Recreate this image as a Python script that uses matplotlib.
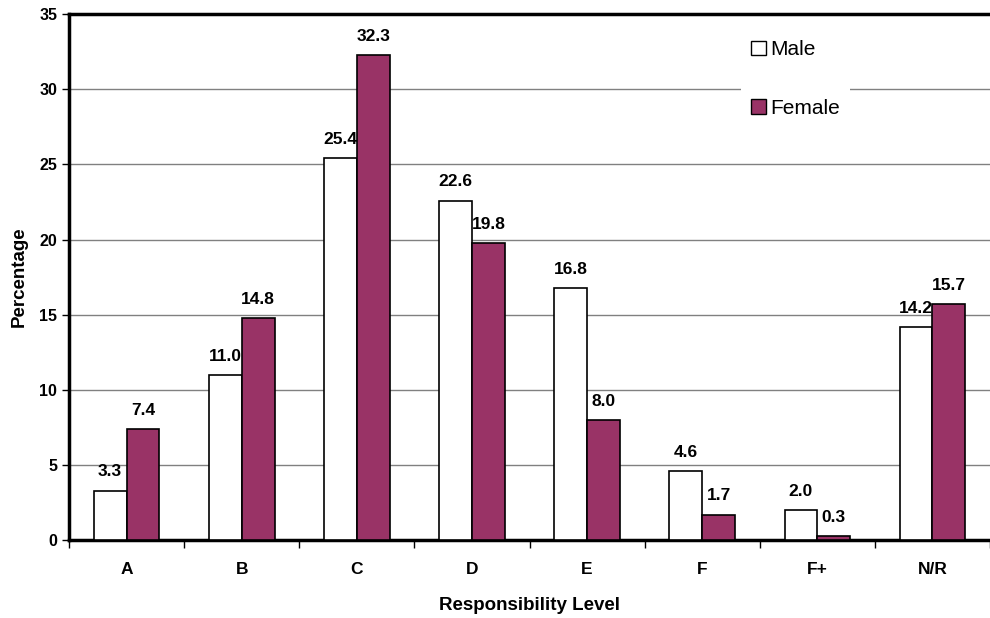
import numpy as np
import matplotlib
matplotlib.use("Agg")
import matplotlib.pyplot as plt
from matplotlib.patches import Patch

plt.rcParams['font.family'] = ['Liberation Sans', 'DejaVu Sans']

levels = ['A', 'B', 'C', 'D', 'E', 'F', 'F+', 'N/R']
male = [3.3, 11.0, 25.4, 22.6, 16.8, 4.6, 2.0, 14.2]
female = [7.4, 14.8, 32.3, 19.8, 8.0, 1.7, 0.3, 15.7]

female_colour = '#993366'
bar_w = 0.285

fig = plt.figure(figsize=(9.9, 6.18), dpi=100)
ax = fig.add_axes([0.0697, 0.126, 0.9303, 0.851])

x = np.arange(len(levels))
m_bars = ax.bar(x - bar_w / 2, male, bar_w, color='white', edgecolor='black', linewidth=1.2, zorder=3)
f_bars = ax.bar(x + bar_w / 2, female, bar_w, color=female_colour, edgecolor='black', linewidth=1.2, zorder=3)

for bars, vals in ((m_bars, male), (f_bars, female)):
    for b, v in zip(bars, vals):
        ax.annotate('%.1f' % v, (b.get_x() + b.get_width() / 2, v),
                    xytext=(0, 8), textcoords='offset points',
                    ha='center', va='bottom', fontsize=12.5, fontweight='bold', zorder=4)

ax.set_ylim(0, 35)
ax.set_xlim(-0.5, 7.43)
ax.set_yticks(np.arange(0, 36, 5))
ax.yaxis.grid(True, color='#808080', linewidth=1.0, zorder=0)
ax.set_axisbelow(True)

# category labels in the middle, ticks on the boundaries
ax.set_xticks(x)
ax.set_xticklabels(levels, fontsize=12.5, fontweight='bold')
ax.tick_params(axis='x', length=0, pad=16)
ax.set_xticks(np.arange(-0.5, len(levels), 1), minor=True)
ax.tick_params(axis='x', which='minor', length=6, width=1, direction='out')
ax.tick_params(axis='y', length=5, width=1, direction='out', labelsize=11.5)
for lab in ax.get_yticklabels():
    lab.set_fontweight('bold')

for side in ('left', 'top', 'bottom'):
    ax.spines[side].set_linewidth(2.5)
ax.spines['right'].set_visible(False)

ax.set_ylabel('Percentage', fontsize=13.5, fontweight='bold', labelpad=8)
ax.set_xlabel('Responsibility Level', fontsize=13.5, fontweight='bold', labelpad=14)

handles = [Patch(facecolor='white', edgecolor='black', label='Male'),
           Patch(facecolor=female_colour, edgecolor='black', label='Female')]
leg = ax.legend(handles=handles, loc='upper left', bbox_to_anchor=(0.718, 0.99),
                frameon=True, fontsize=15, handlelength=0.7, handleheight=0.7,
                handletextpad=0.2, labelspacing=1.9, borderpad=0.5)
leg.get_frame().set_edgecolor('none')
leg.get_frame().set_facecolor('white')
leg.get_frame().set_alpha(1)
leg.set_zorder(5)

fig.savefig('out.png', dpi=100)
